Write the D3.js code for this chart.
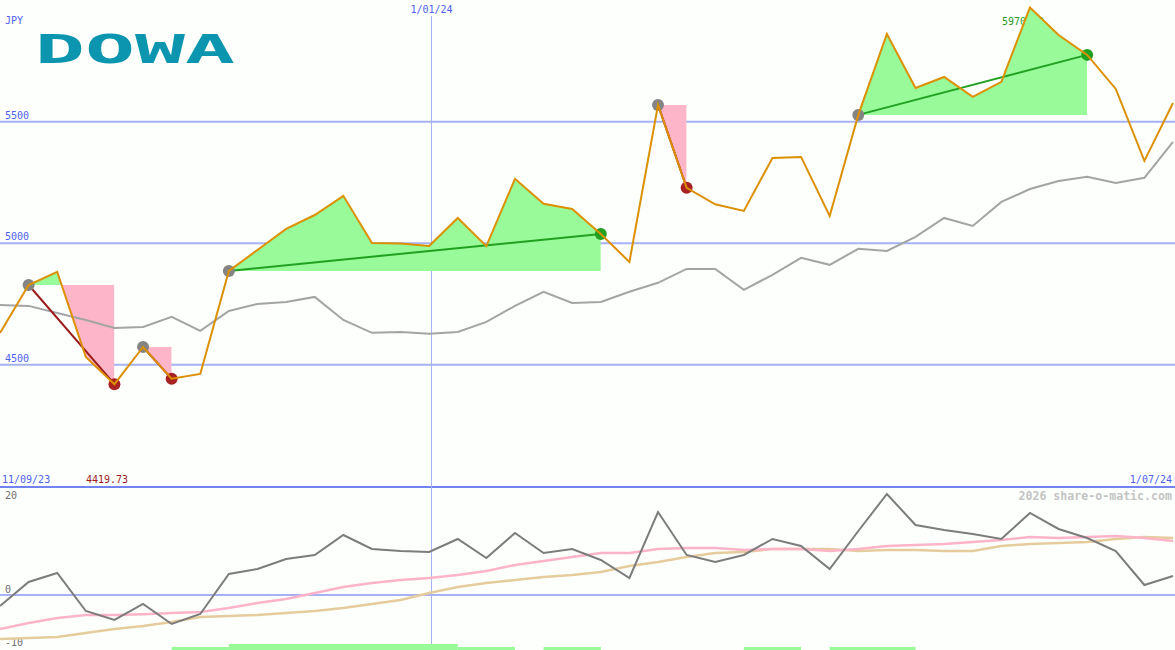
<!DOCTYPE html>
<html>
<head>
<meta charset="utf-8">
<script src="https://cdn.jsdelivr.net/npm/d3@7/dist/d3.min.js"></script>
<style>
  html, body { margin: 0; padding: 0; background: #fcfffc; }
  svg { display: block; }
  text { font-family: "DejaVu Sans Mono", monospace; }
</style>
</head>
<body>
<svg id="chart" width="1175" height="650"></svg>
<script>
// ---------------- DATA ----------------
const dates = [
  "2023-09-17","2023-09-24","2023-10-01","2023-10-08","2023-10-15","2023-10-22","2023-10-29",
  "2023-11-05","2023-11-12","2023-11-19","2023-11-26","2023-12-03","2023-12-10","2023-12-17",
  "2023-12-24","2023-12-31","2024-01-07","2024-01-14","2024-01-21","2024-01-28","2024-02-04",
  "2024-02-11","2024-02-18","2024-02-25","2024-03-03","2024-03-10","2024-03-17","2024-03-24",
  "2024-03-31","2024-04-07","2024-04-14","2024-04-21","2024-04-28","2024-05-05","2024-05-12",
  "2024-05-19","2024-05-26","2024-06-02","2024-06-09","2024-06-16","2024-06-23","2024-06-30"
];
const price = [
  4631, 4828, 4882, 4532, 4419.73, 4573, 4442, 4462, 4886, 4972,
  5059, 5116, 5195, 5001, 4999, 4989, 5104, 4988, 5265, 5162,
  5141, 5038, 4923, 5569, 5228, 5160, 5133, 5351, 5355, 5112,
  5528, 5861, 5639, 5684, 5602, 5664, 5970, 5857, 5775, 5635,
  5339, 5577
];
const priceAvg = [
  4746, 4742, 4713, 4684, 4651, 4655, 4697, 4639, 4721, 4750,
  4758, 4779, 4684, 4631, 4635, 4627, 4635, 4676, 4742, 4800,
  4754, 4758, 4800, 4837, 4894, 4894, 4808, 4870, 4940, 4911,
  4977, 4968, 5026, 5104, 5071, 5170, 5223, 5256, 5273, 5248,
  5269, 5417
];
const momentum = [
  -2.06, 2.43, 4.11, -2.99, -4.67, -1.68, -5.42, -3.55, 3.93, 4.86,
  6.73, 7.48, 11.21, 8.60, 8.22, 8.04, 10.47, 6.92, 11.59, 7.85,
  8.60, 6.54, 3.18, 15.51, 7.48, 6.17, 7.48, 10.47, 9.16, 4.86,
  11.96, 18.88, 13.08, 12.15, 11.40, 10.47, 15.33, 12.34, 10.65, 8.22,
  1.87, 3.55
];
const momentumFast = [
  -6.36, -5.23, -4.30, -3.74, -3.74, -3.60, -3.36, -3.18, -2.43, -1.50,
  -0.75, 0.37, 1.50, 2.24, 2.80, 3.18, 3.74, 4.49, 5.61, 6.36,
  7.10, 7.85, 7.85, 8.60, 8.79, 8.79, 8.41, 8.60, 8.60, 8.22,
  8.60, 9.16, 9.35, 9.53, 9.91, 10.28, 10.84, 10.65, 10.84, 11.03,
  10.65, 10.09
];
const momentumSlow = [
  -8.22, -8.04, -7.85, -7.10, -6.36, -5.79, -5.05, -4.11, -3.93, -3.74,
  -3.36, -2.99, -2.43, -1.68, -0.93, 0.37, 1.50, 2.24, 2.80, 3.36,
  3.74, 4.30, 5.42, 6.17, 7.10, 7.85, 8.04, 8.60, 8.60, 8.60,
  8.22, 8.41, 8.41, 8.22, 8.22, 9.16, 9.53, 9.72, 9.91, 10.47,
  10.84, 10.65
];
// trades: index of entry and exit points
const tradeStart = [1, 5, 8, 23, 30];
const tradeEnd   = [4, 6, 21, 24, 38];
// signal bars at the bottom
const signalStart = ["2023-10-29","2023-11-12","2024-01-07","2024-01-28","2024-03-17","2024-04-07"];
const signalEnd   = ["2023-11-12","2024-01-07","2024-01-21","2024-02-11","2024-03-31","2024-04-28"];
const signalLevel = [1, 2, 1, 1, 1, 1];

const priceTicks = [4500, 5000, 5500];
const momTicks = [-10, 0, 20];
const dateLines = ["2024-01-01"];
const dateLineLabels = ["1/01/24"];
const startLabel = "11/09/23";
const endLabel = "1/07/24";
const currency = "JPY";
const title = "DOWA";
const credit = "2026 share-o-matic.com";

// ---------------- SETUP ----------------
const W = 1175, H = 650;
const svg = d3.select("#chart");
const parse = d3.utcParse("%Y-%m-%d");
const toT = s => d3.utcHour.offset(parse(s), 12);
const T = dates.map(toT);

const x = d3.scaleUtc()
  .domain([toT("2023-09-17"), toT("2024-06-30")])
  .range([0, 1173]);
const y = d3.scaleLinear().domain([4500, 5500]).range([364.7, 121.7]);
const ym = d3.scaleLinear().domain([-10, 20]).range([648.5, 488]);
const ys = d3.scaleLinear().domain([0, 2]).range([650, 644]);

const gridColor = "#a6b2f4";
svg.append("rect").attr("width", W).attr("height", H).attr("fill", "#fcfffc");

// grid lines – price panel
svg.append("g").selectAll("line").data(priceTicks).join("line")
  .attr("x1", 0).attr("x2", W)
  .attr("y1", d => y(d)).attr("y2", d => y(d))
  .attr("stroke", gridColor).attr("stroke-width", 2);
svg.append("g").selectAll("text").data(priceTicks).join("text")
  .attr("x", 5).attr("y", d => y(d) - 3)
  .attr("font-size", 10).attr("fill", "#5060f0")
  .text(d => d);

// momentum zero line
svg.append("line").attr("x1", 0).attr("x2", W)
  .attr("y1", ym(0)).attr("y2", ym(0))
  .attr("stroke", gridColor).attr("stroke-width", 2);

// panel separator
svg.append("line").attr("x1", 0).attr("x2", W)
  .attr("y1", 487).attr("y2", 487)
  .attr("stroke", "#7282f0").attr("stroke-width", 2);

// momentum tick labels
const momLabelY = { "20": 499, "0": 593, "-10": 646 };
svg.append("g").selectAll("text").data(momTicks).join("text")
  .attr("x", 5).attr("y", d => momLabelY[String(d)])
  .attr("font-size", 10).attr("fill", "#707070")
  .text(d => d);

// vertical date lines
dateLines.forEach((d, i) => {
  const xx = Math.round(x(parse(d))) + 0.5;
  svg.append("line").attr("x1", xx).attr("x2", xx).attr("y1", 16).attr("y2", H)
    .attr("stroke", gridColor).attr("stroke-width", 1);
  svg.append("text").attr("x", xx).attr("y", 13).attr("text-anchor", "middle")
    .attr("font-size", 10).attr("fill", "#5060f0").text(dateLineLabels[i]);
});

// texts
svg.append("text").attr("x", 5).attr("y", 24).attr("font-size", 10)
  .attr("fill", "#5060f0").text(currency);
svg.append("text").attr("x", 2).attr("y", 483).attr("font-size", 10)
  .attr("fill", "#5060f0").text(startLabel);
svg.append("text").attr("x", 1172).attr("y", 483).attr("font-size", 10)
  .attr("text-anchor", "end").attr("fill", "#5060f0").text(endLabel);
svg.append("text").attr("x", 86).attr("y", 483).attr("font-size", 10)
  .attr("fill", "#a01c1c").text(d3.format(".2f")(d3.min(price)));
svg.append("text").attr("x", 1172).attr("y", 500).attr("font-size", 11.6)
  .attr("font-weight", "bold").attr("text-anchor", "end")
  .attr("fill", "#c4c4c4").text(credit);
const iMax = d3.maxIndex(price);
svg.append("text").attr("x", x(T[iMax]) - 28).attr("y", 25).attr("font-size", 10)
  .attr("fill", "#2a9a2a").text(d3.format(".2f")(price[iMax]));

// logo
svg.append("text").attr("x", 35).attr("y", 63)
  .attr("font-family", "DejaVu Sans, sans-serif")
  .attr("font-weight", "bold").attr("font-size", 38.5)
  .attr("textLength", 200).attr("lengthAdjust", "spacingAndGlyphs")
  .attr("fill", "#0b95ae").text(title);

// ---------------- TRADE FILLS ----------------
const defs = svg.append("defs");
const fills = svg.append("g");
tradeStart.forEach((s, k) => {
  const e = tradeEnd[k];
  const base = price[s];
  const idx = d3.range(s, e + 1);
  const x0 = x(T[s]), x1 = x(T[e]), yb = y(base);
  const area = d3.area()
    .x(i => x(T[i])).y0(yb).y1(i => y(price[i]));
  const ca = defs.append("clipPath").attr("id", "above" + k);
  ca.append("rect").attr("x", x0).attr("width", x1 - x0).attr("y", 0).attr("height", yb);
  const cb = defs.append("clipPath").attr("id", "below" + k);
  cb.append("rect").attr("x", x0).attr("width", x1 - x0).attr("y", yb).attr("height", H - yb);
  fills.append("path").datum(idx).attr("d", area)
    .attr("fill", "#98fa98").attr("clip-path", `url(#above${k})`);
  fills.append("path").datum(idx).attr("d", area)
    .attr("fill", "#fdb6c9").attr("clip-path", `url(#below${k})`);
});

// ---------------- LINES ----------------
const lineP = d3.line().x((d, i) => x(T[i])).y(d => y(d));
const lineM = d3.line().x((d, i) => x(T[i])).y(d => ym(d));

svg.append("path").datum(priceAvg).attr("d", lineP)
  .attr("fill", "none").attr("stroke", "#a4a4a4").attr("stroke-width", 2);

// momentum panel
svg.append("path").datum(momentumSlow).attr("d", lineM)
  .attr("fill", "none").attr("stroke", "#e6cc9c").attr("stroke-width", 2.5);
svg.append("path").datum(momentumFast).attr("d", lineM)
  .attr("fill", "none").attr("stroke", "#fdb4c8").attr("stroke-width", 2.5);
svg.append("path").datum(momentum).attr("d", lineM)
  .attr("fill", "none").attr("stroke", "#7c7c7c").attr("stroke-width", 2);

// signal bars
svg.append("g").selectAll("rect").data(signalStart).join("rect")
  .attr("x", d => x(toT(d)))
  .attr("width", (d, i) => x(toT(signalEnd[i])) - x(toT(d)))
  .attr("y", (d, i) => ys(signalLevel[i]))
  .attr("height", (d, i) => ys(0) - ys(signalLevel[i]))
  .attr("fill", "#98fa98");

// trend lines & markers
const tg = svg.append("g");
tradeStart.forEach((s, k) => {
  const e = tradeEnd[k];
  const gain = price[e] >= price[s];
  tg.append("line")
    .attr("x1", x(T[s])).attr("y1", y(price[s]))
    .attr("x2", x(T[e])).attr("y2", y(price[e]))
    .attr("stroke", gain ? "#22a022" : "#9c1c1c").attr("stroke-width", 2);
});
tradeStart.forEach((s, k) => {
  const e = tradeEnd[k];
  const gain = price[e] >= price[s];
  tg.append("circle").attr("cx", x(T[s])).attr("cy", y(price[s])).attr("r", 6)
    .attr("fill", "#848484");
  tg.append("circle").attr("cx", x(T[e])).attr("cy", y(price[e])).attr("r", 6)
    .attr("fill", gain ? "#22a022" : "#a82222");
});

// price line on top
svg.append("path").datum(price).attr("d", lineP)
  .attr("fill", "none").attr("stroke", "#dc9000").attr("stroke-width", 2)
  .attr("stroke-linejoin", "miter");
</script>
</body>
</html>
